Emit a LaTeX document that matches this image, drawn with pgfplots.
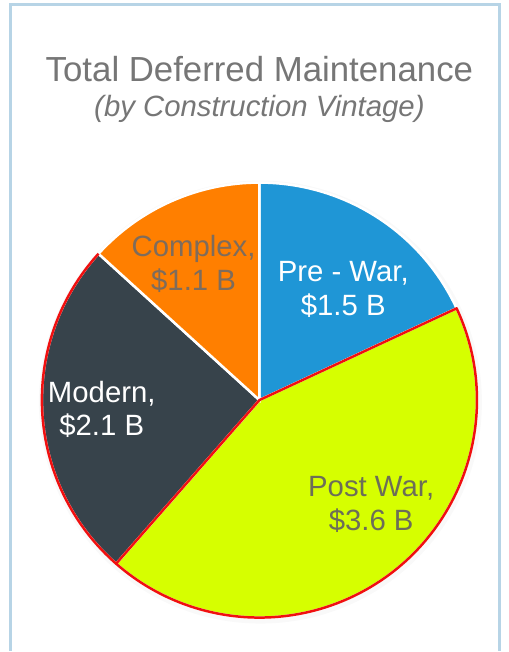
\documentclass[border=0pt]{standalone}
\usepackage{pgfplots}
\pgfplotsset{compat=1.18}
\usepackage{pgfplotstable}
\usepackage{fontspec}
\setmainfont{Liberation Sans}

\definecolor{prewar}{HTML}{1F96D6}
\definecolor{postwar}{HTML}{D6FF00}
\definecolor{modern}{HTML}{37434B}
\definecolor{complex}{HTML}{FF7F00}
\definecolor{frameblue}{HTML}{B7D4E6}
\definecolor{titlegray}{HTML}{767676}
\definecolor{edgered}{HTML}{F01010}
\definecolor{lblcomplex}{HTML}{7E6C5C}
\definecolor{lblpost}{HTML}{6C6E58}

\pgfplotstableread{
label value
PreWar 1.5
PostWar 3.6
Modern 2.1
Complex 1.1
}\piedata

\pgfplotstablegetelem{0}{value}\of\piedata \let\vA\pgfplotsretval
\pgfplotstablegetelem{1}{value}\of\piedata \let\vB\pgfplotsretval
\pgfplotstablegetelem{2}{value}\of\piedata \let\vC\pgfplotsretval
\pgfplotstablegetelem{3}{value}\of\piedata \let\vD\pgfplotsretval
\pgfmathsetmacro\total{\vA+\vB+\vC+\vD}
\pgfmathsetmacro\angA{90}
\pgfmathsetmacro\angB{\angA-360*\vA/\total}
\pgfmathsetmacro\angC{\angB-360*\vB/\total}
\pgfmathsetmacro\angD{\angC-360*\vC/\total}
\pgfmathsetmacro\angE{\angD-360*\vD/\total}

\begin{document}
\begin{tikzpicture}
\begin{axis}[
  width=503bp, height=652bp, scale only axis,
  xmin=0, xmax=503, ymin=0, ymax=652,
  hide axis, clip=false,
]
\fill[white] (axis cs:0,0) rectangle (axis cs:503,652);
% frame
\draw[frameblue, line width=3bp] (axis cs:11,0) -- (axis cs:11,647) -- (axis cs:501,647) -- (axis cs:501,0);
% shadow
\fill[black, opacity=0.025] (axis cs:261,249) circle[radius=222bp];
% slices
\filldraw[fill=prewar, draw=white, line width=2.5bp] (axis cs:260,251) -- ++(\angA:218bp) arc[start angle=\angA, end angle=\angB, radius=218bp] -- cycle;
\filldraw[fill=postwar, draw=white, line width=2.5bp] (axis cs:260,251) -- ++(\angB:218bp) arc[start angle=\angB, end angle=\angC, radius=218bp] -- cycle;
\filldraw[fill=modern, draw=white, line width=2.5bp] (axis cs:260,251) -- ++(\angC:218bp) arc[start angle=\angC, end angle=\angD, radius=218bp] -- cycle;
\filldraw[fill=complex, draw=white, line width=2.5bp] (axis cs:260,251) -- ++(\angD:218bp) arc[start angle=\angD, end angle=\angE, radius=218bp] -- cycle;
% red outlines
\draw[edgered, line width=2.5bp] (axis cs:260,251) ++(\angC:218bp) arc[start angle=\angC, end angle=\angD, radius=218bp];
\draw[edgered, line width=2.5bp, line join=round] (axis cs:260,251) -- ++(\angB:218bp) arc[start angle=\angB, end angle=\angC, radius=218bp] -- cycle;
% titles
\node[anchor=base, text=titlegray, font=\fontsize{35}{40}\selectfont] at (axis cs:260,570) {Total Deferred Maintenance};
\node[anchor=base, text=titlegray, font=\fontsize{29.5}{34}\itshape] at (axis cs:260,535) {(by Construction Vintage)};
% labels
\tikzset{lbl/.style={anchor=base, font=\fontsize{29.5}{34}\selectfont}}
\node[lbl, text=white] at (axis cs:344,370) {Pre - War,};
\node[lbl, text=white] at (axis cs:344,336) {\$1.5 B};
\node[lbl, text=lblcomplex] at (axis cs:194,395) {Complex,};
\node[lbl, text=lblcomplex] at (axis cs:194,361) {\$1.1 B};
\node[lbl, text=white] at (axis cs:102,249) {Modern,};
\node[lbl, text=white] at (axis cs:102,215) {\$2.1 B};
\node[lbl, text=lblpost] at (axis cs:372,154) {Post War,};
\node[lbl, text=lblpost] at (axis cs:372,120) {\$3.6 B};
\end{axis}
\end{tikzpicture}
\end{document}
